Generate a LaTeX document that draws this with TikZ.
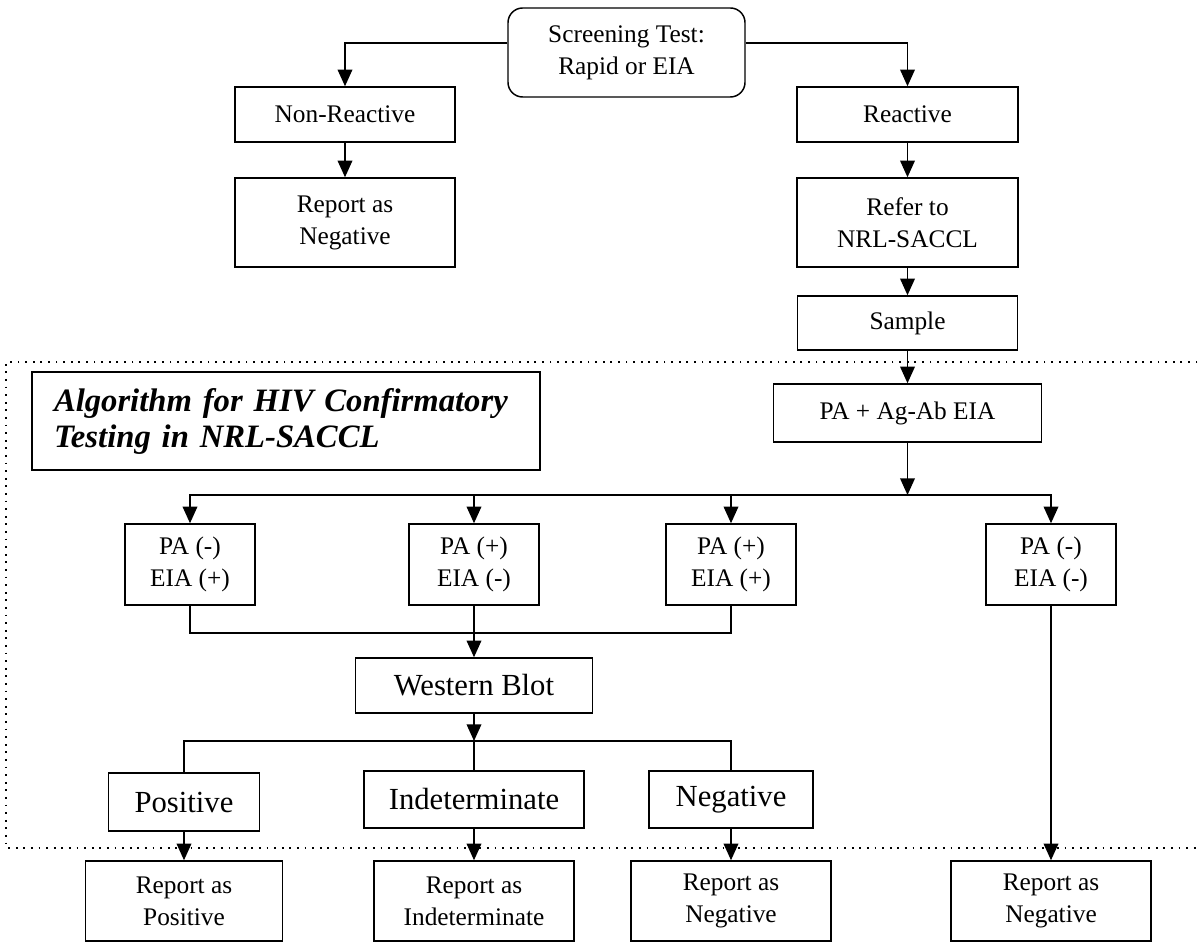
\documentclass[tikz,border=0pt]{standalone}
\usepackage{fontspec}
\setmainfont{Liberation Serif}
\usetikzlibrary{arrows.meta}

\begin{document}
\begin{tikzpicture}[x=0.75pt,y=0.75pt,yscale=-1,xscale=1,
    ln/.style={line width=1.1pt},
    arr/.style={ln, -{Triangle[length=12.5pt,width=11pt]}},
    blk/.style={draw, ln, inner sep=0pt, align=center, font=\fontsize{19}{24}\selectfont},
    bigblk/.style={blk, font=\fontsize{23}{27}\selectfont},
    dots/.style={line width=1.3pt, dash pattern=on 1.3pt off 4.4pt}]
    \useasboundingbox (0,0) rectangle (1199,944);

    %Screening branch
    \node [blk, rounded corners=11pt, minimum width=177.75pt, minimum height=66.75pt] (screen) at (626.5,52.5) {Screening Test:\\Rapid or EIA};
    \node [blk, minimum width=165pt, minimum height=41.25pt] (nonreact) at (345,114.5) {Non-Reactive};
    \node [blk, minimum width=165pt, minimum height=66.75pt] (repnegA) at (345,222.5) {Report as\\Negative};
    \node [blk, minimum width=165.75pt, minimum height=41.25pt] (react) at (907.5,114.5) {Reactive};
    \node [blk, minimum width=165.75pt, minimum height=66.75pt] (refer) at (907.5,222.5) {Refer to\\NRL-SACCL};
    \node [blk, minimum width=165pt, minimum height=40.5pt] (sample) at (907.5,323) {Sample};

    %Confirmatory area (dotted frame)
    \draw [dots] (1205,362) -- (6,362) -- (6,848) -- (1205,848);
    \node [draw, ln, inner xsep=16.5pt, inner ysep=0pt, text width=348pt, minimum height=73.5pt, align=left, font=\fontsize{24.5}{27}\selectfont\bfseries\itshape] (title) at (286,421) {Algorithm for HIV Confirmatory\\Testing in NRL-SACCL};
    \node [blk, minimum width=201pt, minimum height=43.5pt] (paeia) at (907.5,413) {PA + Ag-Ab EIA};

    \node [blk, minimum width=97.5pt, minimum height=60.75pt] (paNegEiaPos) at (190,564.5) {PA (-)\\EIA (+)};
    \node [blk, minimum width=97.5pt, minimum height=60.75pt] (paPosEiaNeg) at (474,564.5) {PA (+)\\EIA (-)};
    \node [blk, minimum width=97.5pt, minimum height=60.75pt] (paPosEiaPos) at (731,564.5) {PA (+)\\EIA (+)};
    \node [blk, minimum width=97.5pt, minimum height=60.75pt] (paNegEiaNeg) at (1051,564.5) {PA (-)\\EIA (-)};

    \node [bigblk, minimum width=177.75pt, minimum height=41.25pt] (wblot) at (474,685.5) {Western Blot};
    \node [bigblk, minimum width=113.25pt, minimum height=43.5pt] (wbPos) at (184,802) {Positive};
    \node [bigblk, minimum width=165pt, minimum height=42.75pt] (wbInd) at (474,799.5) {Indeterminate};
    \node [bigblk, minimum width=123pt, minimum height=42.75pt] (wbNeg) at (731,799.5) {Negative};

    %Reports
    \node [blk, minimum width=147.75pt, minimum height=60pt] (repPos) at (184,901) {Report as\\Positive};
    \node [blk, minimum width=150pt, minimum height=60pt] (repInd) at (474,901) {Report as\\Indeterminate};
    \node [blk, minimum width=150pt, minimum height=60pt] (repNeg) at (731,901) {Report as\\Negative};
    \node [blk, minimum width=150pt, minimum height=60pt] (repNegB) at (1051,901) {Report as\\Negative};

    %Connectors
    \draw [arr] ([yshift=-7pt]screen.west) -| (nonreact.north);
    \draw [arr] ([yshift=-7pt]screen.east) -| (react.north);
    \draw [arr] (nonreact) -- (repnegA);
    \draw [arr] (react) -- (refer);
    \draw [arr] (refer) -- (sample);
    \draw [arr] (sample) -- (paeia);

    \coordinate (paSplit) at (907.5,495);
    \draw [arr] (paeia) -- (paSplit);
    \foreach \b in {paNegEiaPos,paPosEiaNeg,paPosEiaPos,paNegEiaNeg}
        \draw [arr] (paSplit) -| (\b.north);

    \coordinate (paJoin) at (474,633);
    \draw [ln] (paNegEiaPos.south) |- (paJoin);
    \draw [ln] (paPosEiaPos.south) |- (paJoin);
    \draw [arr] (paPosEiaNeg) -- (wblot);

    \coordinate (wbSplit) at (474,741);
    \draw [arr] (wblot) -- (wbSplit);
    \foreach \b in {wbPos,wbInd,wbNeg}
        \draw [ln] (wbSplit) -| (\b.north);

    \draw [arr] (wbPos) -- (repPos);
    \draw [arr] (wbInd) -- (repInd);
    \draw [arr] (wbNeg) -- (repNeg);
    \draw [arr] (paNegEiaNeg) -- (repNegB);
\end{tikzpicture}
\end{document}
